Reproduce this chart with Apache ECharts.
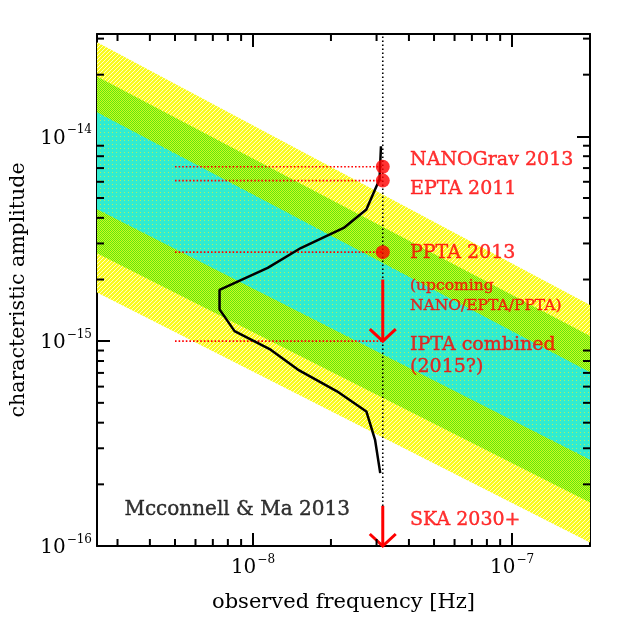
<!DOCTYPE html>
<html><head><meta charset="utf-8">
<script src="https://cdn.jsdelivr.net/npm/echarts@6/dist/echarts.min.js"></script>
<style>html,body{margin:0;padding:0;background:#fff}#c{width:623px;height:623px}</style>
</head><body><div id="c"></div>
<script>
// ---------- data ----------
const xRange = [2.5e-9, 2e-7];
const yRange = [1e-16, 3.16e-14];

// stochastic background bands: amplitudes at the two frequency edges
const bandFreq    = [2.5e-9, 2e-7];
const yellowUpper = [2.88e-14, 1.50e-15];
const yellowLower = [1.73e-15, 1.04e-16];
const greenUpper  = [1.96e-14, 1.06e-15];
const greenLower  = [2.69e-15, 1.63e-16];
const cyanUpper   = [1.31e-14, 7.05e-16];
const cyanLower   = [4.41e-15, 2.64e-16];

// McConnell & Ma 2013 curve
const curveFreq = [3.12e-8, 3.08e-8, 2.96e-8, 2.74e-8, 2.24e-8, 1.53e-8, 1.14e-8, 7.43e-9, 7.43e-9, 8.49e-9, 1.17e-8, 1.49e-8, 2.11e-8, 2.74e-8, 2.96e-8, 3.10e-8];
const curveAmp  = [8.94e-15, 6.15e-15, 5.50e-15, 4.39e-15, 3.57e-15, 2.85e-15, 2.28e-15, 1.78e-15, 1.43e-15, 1.12e-15, 9.09e-16, 7.27e-16, 5.69e-16, 4.54e-16, 3.30e-16, 2.27e-16];

// PTA limits
const limitFreq = 3.17e-8;
const limitLineStart = 5.0e-9;
const limitAmp = [7.1e-15, 6.08e-15, 2.72e-15, 1.0e-15];      // dotted guide lines
const measuredAmp = [7.1e-15, 6.08e-15, 2.72e-15];            // red dots
const arrowIPTA = [2.0e-15, 1.0e-15];
const arrowSKA  = [1.57e-16, 1.0e-16];

// annotations
const labelTexts = ['NANOGrav 2013', 'EPTA 2011', 'PPTA 2013', 'IPTA combined', '(2015?)', 'SKA 2030+'];
const labelAmp   = [7.69e-15, 5.50e-15, 2.70e-15, 9.6e-16, 7.5e-16, 1.34e-16];
const smallTexts = ['(upcoming', 'NANO/EPTA/PPTA)'];
const smallAmp   = [1.85e-15, 1.49e-15];
const labelFreq  = 4.04e-8;
const authorText = 'Mcconnell & Ma 2013';
const authorPos  = [3.19e-9, 1.50e-16];

// minor tick mantissas and decades
const minorMant = [2, 3, 4, 5, 6, 7, 8, 9];
const xDecades = [-9, -8, -7];
const yDecades = [-16, -15, -14];

// ---------- chart ----------
const FONT = 'DejaVu Serif';
const RED = '#ff0000';

function makePattern(kind) {
  const c = document.createElement('canvas');
  c.width = 4; c.height = 4;
  const g = c.getContext('2d');
  for (let y = 0; y < 4; y++) for (let x = 0; x < 4; x++) {
    let col;
    if (kind === 'yellow') col = ((x + y) % 4 === 0) ? '#ffffc8' : '#fafa20';
    else if (kind === 'green') col = ((x + y) % 2 === 0) ? '#5ee810' : '#d0f820';
    else col = ((x % 4 === 0) && (y % 4 === 0)) ? '#b0f060' : '#30ecd0';
    g.fillStyle = col; g.fillRect(x, y, 1, 1);
  }
  return { image: c, repeat: 'repeat' };
}

function withinX(v) { return v > xRange[0] * 1.0001 && v < xRange[1] * 0.9999; }
function withinY(v) { return v > yRange[0] * 1.0001 && v < yRange[1] * 0.9999; }
const xMinor = [], yMinor = [];
xDecades.forEach(d => minorMant.forEach(m => { const v = m * Math.pow(10, d); if (withinX(v)) xMinor.push(v); }));
yDecades.forEach(d => minorMant.forEach(m => { const v = m * Math.pow(10, d); if (withinY(v)) yMinor.push(v); }));

function powLabel(v) {
  const e = Math.log10(v), r = Math.round(e);
  if (Math.abs(e - r) > 1e-6) return '';
  return '{b|10}{s|' + (r < 0 ? '\u2212' : '') + Math.abs(r) + '}';
}
const rich = {
  b: { fontFamily: FONT, fontSize: 20, color: '#000', lineHeight: 24, verticalAlign: 'bottom' },
  s: { fontFamily: FONT, fontSize: 12, color: '#000', lineHeight: 24, verticalAlign: 'top', padding: [0, 0, 0, 1] }
};

const axisCommon = {
  type: 'log', logBase: 10,
  axisLine: { show: true, lineStyle: { color: '#000', width: 2 } },
  axisTick: { show: true, inside: true, length: 13, lineStyle: { color: '#000', width: 2 } },
  minorTick: { show: false },
  splitLine: { show: false },
  minorSplitLine: { show: false }
};

const bandDefs = [
  [yellowUpper, yellowLower, makePattern('yellow')],
  [greenUpper, greenLower, makePattern('green')],
  [cyanUpper, cyanLower, makePattern('cyan')]
];

function bandSeries(up, lo, fill, z) {
  return {
    type: 'custom', xAxisIndex: 0, yAxisIndex: 0, z: z, silent: true,
    data: [[bandFreq[0], up[0], bandFreq[1], up[1], lo[1], lo[0]]],
    encode: { x: [0, 2], y: [1, 3, 4, 5] },
    renderItem: function (params, api) {
      const p1 = api.coord([api.value(0), api.value(1)]);
      const p2 = api.coord([api.value(2), api.value(3)]);
      const p3 = api.coord([api.value(2), api.value(4)]);
      const p4 = api.coord([api.value(0), api.value(5)]);
      const cs = params.coordSys;
      return {
        type: 'polygon', shape: { points: [p1, p2, p3, p4] },
        style: { fill: fill, stroke: null },
        clipPath: { type: 'rect', shape: { x: cs.x, y: cs.y, width: cs.width, height: cs.height } }
      };
    }
  };
}

function arrowSeries(a) {
  return {
    type: 'custom', xAxisIndex: 0, yAxisIndex: 0, z: 16, silent: true,
    data: [[limitFreq, a[0], a[1]]],
    encode: { x: 0, y: [1, 2] },
    renderItem: function (params, api) {
      const s = api.coord([api.value(0), api.value(1)]);
      const t = api.coord([api.value(0), api.value(2)]);
      const st = { stroke: RED, lineWidth: 3, fill: null };
      return { type: 'group', children: [
        { type: 'line', shape: { x1: s[0], y1: s[1], x2: t[0], y2: t[1] }, style: st },
        { type: 'polyline', shape: { points: [[t[0] - 13, t[1] - 12], [t[0], t[1]], [t[0] + 13, t[1] - 12]] }, style: st }
      ] };
    }
  };
}

const series = [];
bandDefs.forEach((b, i) => series.push(bandSeries(b[0], b[1], b[2], 1 + i)));

// minor ticks (x: bottom and top; y: left and right)
series.push({
  type: 'custom', xAxisIndex: 0, yAxisIndex: 0, z: 18, silent: true,
  data: xMinor.map(v => [v, yRange[0]]),
  renderItem: function (params, api) {
    const v = api.value(0);
    const b = api.coord([v, yRange[0]]), t = api.coord([v, yRange[1]]);
    const st = { stroke: '#000', lineWidth: 2 };
    return { type: 'group', children: [
      { type: 'line', shape: { x1: b[0], y1: b[1], x2: b[0], y2: b[1] - 7 }, style: st },
      { type: 'line', shape: { x1: t[0], y1: t[1], x2: t[0], y2: t[1] + 7 }, style: st }
    ] };
  }
});
series.push({
  type: 'custom', xAxisIndex: 0, yAxisIndex: 0, z: 18, silent: true,
  data: yMinor.map(v => [xRange[0], v]),
  renderItem: function (params, api) {
    const v = api.value(1);
    const l = api.coord([xRange[0], v]), r = api.coord([xRange[1], v]);
    const st = { stroke: '#000', lineWidth: 2 };
    return { type: 'group', children: [
      { type: 'line', shape: { x1: l[0], y1: l[1], x2: l[0] + 7, y2: l[1] }, style: st },
      { type: 'line', shape: { x1: r[0], y1: r[1], x2: r[0] - 7, y2: r[1] }, style: st }
    ] };
  }
});

// vertical dotted line at 1/yr
series.push({
  type: 'line', xAxisIndex: 0, yAxisIndex: 0, z: 10, silent: true, symbol: 'none',
  data: [[limitFreq, yRange[0]], [limitFreq, yRange[1]]],
  lineStyle: { color: '#000', width: 1.6, type: [1.6, 2.4] }
});
// red dotted guide lines
limitAmp.forEach(a => series.push({
  type: 'line', xAxisIndex: 0, yAxisIndex: 0, z: 10, silent: true, symbol: 'none',
  data: [[limitLineStart, a], [limitFreq, a]],
  lineStyle: { color: RED, width: 1.6, type: [1.6, 2] }
}));
// prediction curve
series.push({
  type: 'line', xAxisIndex: 0, yAxisIndex: 0, z: 12, silent: true, symbol: 'none',
  data: curveFreq.map((f, i) => [f, curveAmp[i]]),
  lineStyle: { color: '#000', width: 2.5 }
});
// arrows
series.push(arrowSeries(arrowIPTA));
series.push(arrowSeries(arrowSKA));
// measured limits
series.push({
  type: 'scatter', xAxisIndex: 0, yAxisIndex: 0, z: 17, silent: true,
  symbol: 'circle', symbolSize: 14, itemStyle: { color: RED },
  data: measuredAmp.map(a => [limitFreq, a])
});
// annotations
function textSeries(texts, amps, freq, size, color) {
  return {
    type: 'scatter', xAxisIndex: 0, yAxisIndex: 0, z: 19, silent: true, symbolSize: 0,
    data: texts.map((t, i) => ({ value: [freq, amps[i]], name: t })),
    label: { show: true, position: 'right', distance: 0, formatter: p => p.name,
      fontFamily: FONT, fontSize: size, color: color, textBorderColor: color, textBorderWidth: 0.4 }
  };
}
series.push(textSeries(labelTexts, labelAmp, labelFreq, 19, RED));
series.push(textSeries(smallTexts, smallAmp, labelFreq, 15.5, RED));
series.push(textSeries([authorText], [authorPos[1]], authorPos[0], 20, '#000'));

const option = {
  animation: false,
  backgroundColor: '#fff',
  grid: { left: 97, right: 33, top: 34, bottom: 77, containLabel: false },
  xAxis: [
    Object.assign({}, axisCommon, {
      position: 'bottom', min: xRange[0], max: xRange[1],
      axisLabel: { formatter: powLabel, rich: rich, margin: 8, showMinLabel: false, showMaxLabel: false },
      name: 'observed frequency [Hz]', nameLocation: 'middle', nameGap: 46,
      nameTextStyle: { fontFamily: FONT, fontSize: 21, color: '#000' }
    }),
    Object.assign({}, axisCommon, { position: 'top', min: xRange[0], max: xRange[1], axisLabel: { show: false } })
  ],
  yAxis: [
    Object.assign({}, axisCommon, {
      position: 'left', min: yRange[0], max: yRange[1],
      axisLabel: { formatter: powLabel, rich: rich, margin: 5 },
      name: 'characteristic amplitude', nameLocation: 'middle', nameGap: 66, nameRotate: 90,
      nameTextStyle: { fontFamily: FONT, fontSize: 20.5, color: '#000' }
    }),
    Object.assign({}, axisCommon, { position: 'right', min: yRange[0], max: yRange[1], axisLabel: { show: false } })
  ],
  series: series
};

const chart = echarts.init(document.getElementById('c'), null, { renderer: 'canvas' });
chart.setOption(option);
</script>
</body></html>
